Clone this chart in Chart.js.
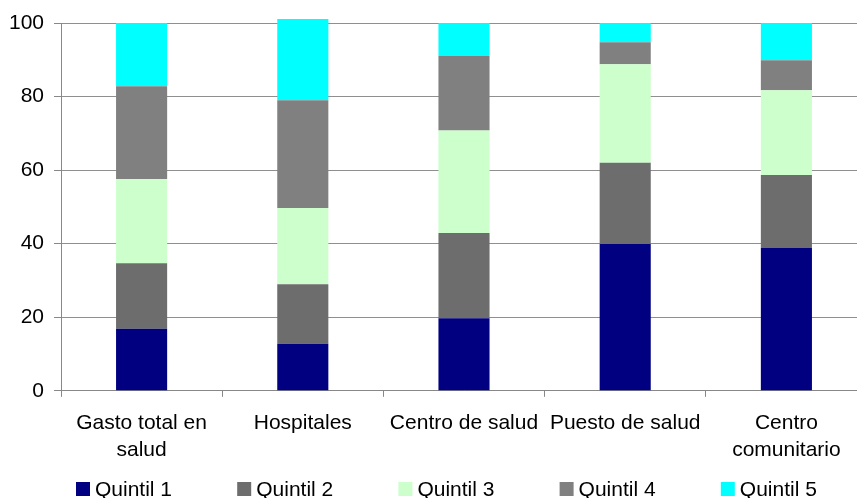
<!DOCTYPE html>
<html>
<head>
<meta charset="utf-8">
<script src="https://cdn.jsdelivr.net/npm/chart.js@4/dist/chart.umd.min.js"></script>
<style>
html,body{margin:0;padding:0;background:#fff;overflow:hidden;}
#wrap{position:relative;width:870px;height:498px;}
</style>
</head>
<body>
<div id="wrap"><canvas id="c"></canvas></div>
<script>
const categories = [["Gasto total en","salud"], "Hospitales", "Centro de salud", "Puesto de salud", ["Centro","comunitario"]];
const seriesNames = ["Quintil 1", "Quintil 2", "Quintil 3", "Quintil 4", "Quintil 5"];
const quintil1 = [16.9, 12.8, 19.7, 39.9, 38.8];
const quintil2 = [17.8, 16.2, 23.2, 22.1, 19.9];
const quintil3 = [22.9, 20.7, 27.9, 26.8, 23.0];
const quintil4 = [25.2, 29.3, 20.2, 6.0, 8.2];
const quintil5 = [17.2, 22.1, 9.0, 5.2, 10.1];
const yTicks = [0, 20, 40, 60, 80, 100];

const colors = ["#000080", "#6d6d6d", "#ccffcc", "#808080", "#00ffff"];
const values = [quintil1, quintil2, quintil3, quintil4, quintil5];
const FONT = "'Liberation Sans', Arial, sans-serif";

// Legend drawn on the canvas, one item per category slot width
const bottomLegend = {
  id: 'bottomLegend',
  afterDraw(chart) {
    const ctx = chart.ctx, ca = chart.chartArea;
    const stride = ca.width / chart.data.labels.length;
    const y = chart.height - 9;
    ctx.save();
    ctx.font = "21px " + FONT;
    ctx.textBaseline = 'middle';
    ctx.textAlign = 'left';
    chart.data.datasets.forEach((ds, i) => {
      const x = ca.left + 15 + i * stride;
      ctx.fillStyle = ds.backgroundColor;
      ctx.fillRect(x, y - 7, 14, 14);
      ctx.fillStyle = '#000';
      ctx.fillText(ds.label, x + 19, y + 1);
    });
    ctx.restore();
  }
};

const chart = new Chart(document.getElementById('c'), {
  type: 'bar',
  data: {
    labels: categories,
    datasets: seriesNames.map((n, i) => ({
      label: n,
      data: values[i],
      backgroundColor: colors[i],
      borderWidth: 0,
      categoryPercentage: 1,
      barPercentage: 0.317,
      clip: false
    }))
  },
  plugins: [bottomLegend],
  options: {
    responsive: true,
    maintainAspectRatio: false,
    animation: false,
    layout: { padding: { left: 0, right: 3, top: 23, bottom: 21 } },
    plugins: {
      tooltip: { enabled: false },
      legend: { display: false }
    },
    scales: {
      x: {
        stacked: true,
        offset: true,
        grid: { display: true, offset: true, drawOnChartArea: false, drawTicks: true, tickLength: 6, color: '#888', tickColor: '#888' },
        border: { display: true, color: '#888', width: 1 },
        ticks: { color: '#000', padding: 13, maxRotation: 0, autoSkip: false, font: { family: FONT, size: 21, lineHeight: 1.29 } }
      },
      y: {
        stacked: true,
        min: 0, max: 100,
        afterFit: s => { s.width = 61; },
        afterBuildTicks: s => { s.ticks = yTicks.map(v => ({ value: v })); },
        grid: { color: '#8f8f8f', borderDash: [8, 7], tickBorderDash: [], tickColor: '#888', tickLength: 7, lineWidth: 1 },
        border: { display: true, color: '#888', width: 1 },
        ticks: { color: '#000', padding: 10, font: { family: FONT, size: 21 } }
      }
    }
  }
});
</script>
</body>
</html>
